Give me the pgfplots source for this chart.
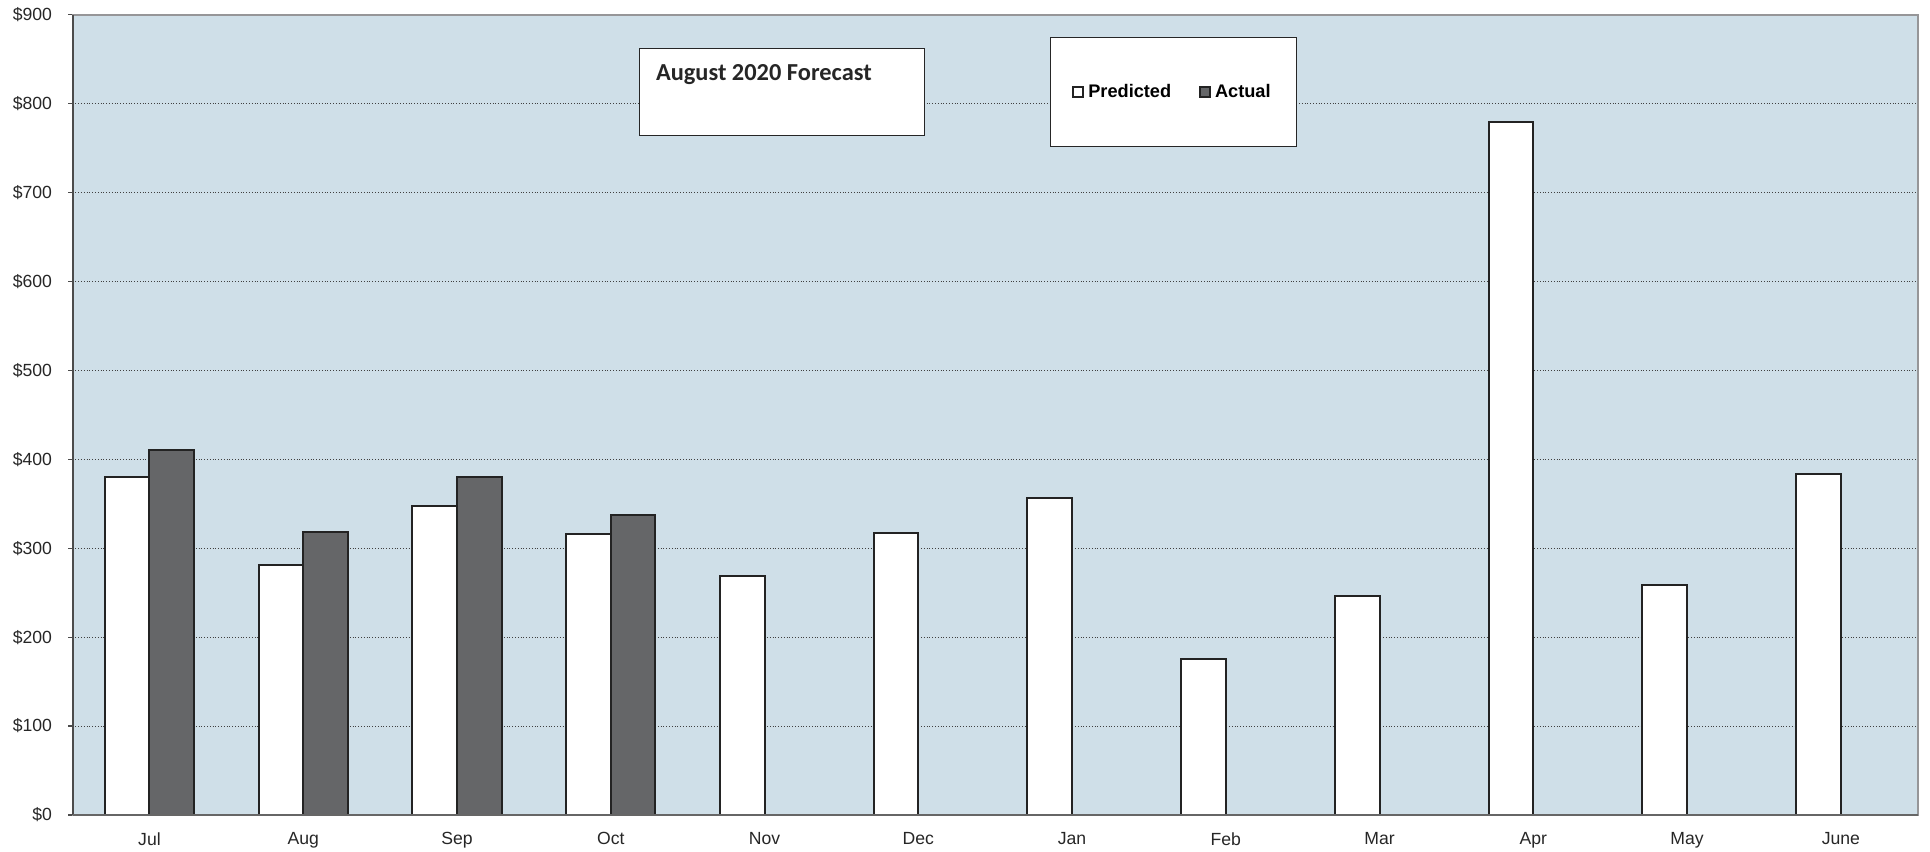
\documentclass[border=0pt]{standalone}
\usepackage{fontspec}
\setmainfont{Liberation Sans}
\newfontfamily\carlito{Carlito}
\usepackage{pgfplots}
\pgfplotsset{compat=1.18}
\definecolor{bgblue}{RGB}{207,223,232}
\definecolor{actgray}{RGB}{101,102,104}
\definecolor{barline}{RGB}{35,35,35}
\definecolor{framegray}{RGB}{150,150,152}
\begin{document}
\begin{tikzpicture}
\useasboundingbox (-36.3pt,-18pt) rectangle (928.7pt,407.5pt);
\begin{axis}[
  at={(0pt,0pt)}, anchor=south west, scale only axis,
  width=922.55pt, height=400.1pt,
  xmin=-0.5, xmax=11.5, ymin=0, ymax=900,
  ybar, bar width=0.29,
  xtick={0,...,11},
  xticklabels={Jul,Aug,Sep,Oct,Nov,Dec,Jan,Feb,Mar,Apr,May,June},
  ytick={0,100,...,900},
  yticklabels={\$0,\$100,\$200,\$300,\$400,\$500,\$600,\$700,\$800,\$900},
  ytick pos=left, xtick pos=bottom,
  tick align=outside,
  major tick length=2.3pt,
  major x tick style={draw=none},
  major y tick style={draw=black!70, line width=0.6pt},
  ticklabel style={font=\fontsize{8.8}{10}\selectfont, text=black!85},
  yticklabel style={xshift=-4.5pt},
  xticklabel style={yshift=-2.8pt},
  /pgf/number format/assume math mode=true,
  axis background/.style={fill=bgblue},
  axis line style={draw=framegray, line width=0.8pt},
  ymajorgrids,
  major grid style={densely dotted, draw=black!75, line width=0.45pt},
  legend style={
    at={(rel axis cs:0.5967,0.9035)}, anchor=center,
    draw=black!85, line width=0.5pt, fill=white,
    inner xsep=11pt, inner ysep=21pt,
    font=\fontsize{9.1}{10}\selectfont\bfseries,
    legend columns=2,
    /tikz/every even column/.append style={column sep=12pt},
    legend cell align=left,
  },
]
\addplot[bar shift=-0.145, fill=white, draw=barline, line width=1pt,
  legend image code/.code={\draw[fill=white, draw=barline, line width=0.9pt] (0pt,-2.5pt) rectangle (5pt,2.5pt);}]
  coordinates {(0,380) (1,281) (2,347) (3,316) (4,269) (5,317) (6,356) (7,176) (8,246) (9,779) (10,259) (11,384)};
\addplot[bar shift=0.145, fill=actgray, draw=barline, line width=1pt,
  legend image code/.code={\draw[fill=actgray, draw=barline, line width=0.9pt] (0pt,-2.5pt) rectangle (5pt,2.5pt);}]
  coordinates {(0,411) (1,318) (2,380) (3,337)};
\legend{Predicted, Actual}
\end{axis}
\draw[line width=1pt, black!70] (0pt,0pt) -- (0pt,400.1pt);
\draw[line width=0.8pt, black!60] (0pt,0pt) -- (922.55pt,0pt);
\node[draw=black!85, line width=0.5pt, fill=white, anchor=north west,
  minimum width=142.5pt, minimum height=43.5pt, inner sep=0pt] (tb) at (283pt,383.5pt) {};
\node[anchor=base west, inner sep=0pt, text=black!85, font=\carlito\bfseries\fontsize{12.2}{14}\selectfont]
  at ([xshift=8.5pt,yshift=-16.4pt]tb.north west) {August 2020 Forecast};
\end{tikzpicture}
\end{document}
